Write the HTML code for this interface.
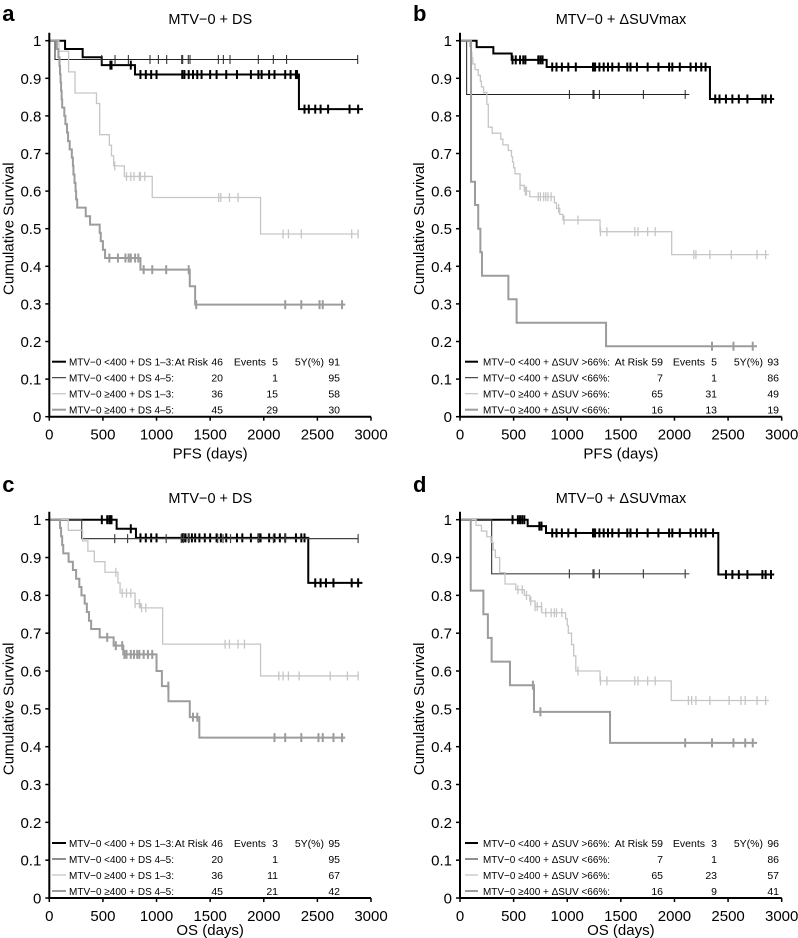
<!DOCTYPE html>
<html><head><meta charset="utf-8"><style>
body{margin:0;background:#fff;}
svg{display:block;font-family:"Liberation Sans",sans-serif;}
</style></head><body>
<svg id="chart" width="798" height="938" viewBox="0 0 798 938" xmlns="http://www.w3.org/2000/svg"></svg>
<script>
// ---------- data ----------
const xTicks=[0,500,1000,1500,2000,2500,3000];
const yTicks=[0,0.1,0.2,0.3,0.4,0.5,0.6,0.7,0.8,0.9,1];
const yTickLabels=["0","0.1","0.2","0.3","0.4","0.5","0.6","0.7","0.8","0.9","1"];

// Panel a (PFS, DS)
const aS1=[[0,1],[147,0.978],[311,0.956],[489,0.935],[799,0.91],[2328,0.818]]; const aS1end=2925;
const aS1c=[570,580,760,850,900,950,1000,1240,1260,1300,1340,1380,1420,1500,1560,1650,1750,1880,1950,1980,2050,2100,2200,2250,2300,2310,2380,2420,2480,2530,2600,2800,2880];
const aS2=[[0,1],[53,0.95]]; const aS2end=2876;
const aS2c=[489,613,737,939,1017,1095,1235,1244,1296,1312,1576,1623,1685,1949,2089,2213,2876];
const aS3=[[0,1],[90,0.972],[180,0.917],[240,0.861],[440,0.833],[470,0.75],[560,0.722],[580,0.694],[600,0.667],[700,0.639],[960,0.583],[1970,0.486]]; const aS3end=2880;
const aS3c=[610,720,760,790,840,850,890,1580,1600,1680,1760,2180,2230,2350,2820,2880];
const aS4=[[0,1],[70,0.978],[85,0.956],[95,0.933],[100,0.911],[105,0.889],[110,0.867],[115,0.844],[120,0.822],[140,0.8],[150,0.778],[165,0.756],[175,0.733],[190,0.711],[210,0.689],[220,0.667],[225,0.644],[235,0.622],[245,0.6],[250,0.578],[260,0.556],[340,0.533],[380,0.511],[470,0.489],[480,0.467],[500,0.444],[520,0.422],[850,0.391],[1310,0.347],[1360,0.298]]; const aS4end=2760;
const aS4c=[560,640,710,740,760,800,830,880,960,1090,1300,1370,2200,2350,2520,2550,2730];

// Panel b (PFS, dSUVmax)
const bS1=[[0,1],[155,0.983],[311,0.966],[482,0.949],[808,0.93],[2331,0.845]]; const bS1end=2930;
const bS1c=[490,520,560,590,610,730,750,770,860,900,950,1010,1080,1240,1250,1260,1300,1340,1380,1420,1480,1560,1590,1650,1750,1850,1950,1980,2050,2150,2200,2250,2290,2380,2420,2480,2540,2600,2680,2820,2850,2900];
const bS2=[[0,1],[62,0.857]]; const bS2end=2139;
const bS2c=[1020,1240,1250,1300,1710,2100];
const bS3=[[0,1],[90,0.985],[100,0.969],[110,0.954],[120,0.938],[140,0.923],[170,0.908],[190,0.892],[200,0.877],[220,0.862],[250,0.831],[264,0.77],[300,0.754],[380,0.738],[400,0.723],[450,0.708],[480,0.692],[490,0.677],[500,0.662],[513,0.646],[560,0.615],[600,0.6],[650,0.585],[880,0.569],[900,0.554],[930,0.538],[960,0.523],[1306,0.492],[1974,0.431]]; const bS3end=2880;
const bS3c=[560,610,620,730,750,780,800,820,850,920,970,1100,1310,1370,1630,1660,1750,1820,2180,2200,2330,2530,2770,2850];
const bS4=[[0,1],[103,0.625],[140,0.563],[170,0.5],[190,0.4375],[205,0.375],[451,0.3125],[528,0.25],[1362,0.1875]]; const bS4end=2770;
const bS4c=[2350,2550,2730];

// Panel c (OS, DS)
const cS1=[[0,1],[628,0.976],[808,0.952],[2415,0.833]]; const cS1end=2920;
const cS1c=[490,540,560,570,580,760,850,900,950,1000,1240,1250,1270,1300,1330,1360,1400,1450,1500,1560,1600,1650,1750,1800,1880,1950,1970,2050,2100,2150,2200,2300,2350,2380,2480,2530,2580,2650,2820,2880];
const cS2=[[0,1],[302,0.95]]; const cS2end=2880;
const cS2c=[610,730,1090,1230,1250,1300,1570,1620,1690,1950,2090,2200,2880];
const cS3=[[0,1],[177,0.972],[310,0.944],[360,0.917],[420,0.889],[519,0.861],[640,0.833],[660,0.806],[800,0.778],[850,0.767],[1057,0.671],[1970,0.587]]; const cS3end=2880;
const cS3c=[620,680,720,760,800,840,860,900,1640,1680,1760,1820,2140,2180,2230,2330,2620,2780,2880];
const cS4=[[0,1],[100,0.978],[110,0.956],[120,0.933],[130,0.911],[180,0.889],[220,0.867],[250,0.844],[280,0.822],[300,0.8],[330,0.778],[350,0.756],[370,0.733],[390,0.711],[470,0.689],[600,0.667],[690,0.644],[1000,0.6],[1050,0.56],[1111,0.52],[1310,0.478],[1399,0.424]]; const cS4end=2760;
const cS4c=[540,620,680,700,720,760,790,820,840,880,920,960,1110,1340,1380,2100,2200,2350,2510,2550,2650,2730];

// Panel d (OS, dSUVmax)
const dS1=[[0,1],[631,0.983],[802,0.965],[2409,0.855]]; const dS1end=2930;
const dS1c=[490,540,560,580,600,740,760,860,900,950,1010,1080,1240,1250,1260,1300,1340,1380,1420,1480,1560,1590,1650,1750,1850,1950,1980,2050,2150,2200,2250,2290,2360,2480,2540,2600,2680,2820,2850,2900];
const dS2=[[0,1],[295,0.857]]; const dS2end=2139;
const dS2c=[1020,1240,1250,1300,1710,2100];
const dS3=[[0,1],[150,0.985],[200,0.97],[250,0.955],[290,0.94],[310,0.92],[330,0.9],[370,0.86],[420,0.83],[520,0.815],[600,0.8],[650,0.785],[700,0.77],[762,0.754],[985,0.738],[1000,0.72],[1010,0.7],[1040,0.67],[1060,0.64],[1080,0.6],[1306,0.574],[1970,0.522]]; const dS3end=2880;
const dS3c=[540,580,620,660,700,720,760,800,850,880,900,950,1100,1310,1370,1630,1660,1750,1820,2130,2160,2200,2330,2510,2620,2660,2770,2850];
const dS4=[[0,1],[100,0.8125],[218,0.75],[260,0.6875],[295,0.625],[466,0.5625],[690,0.492],[1399,0.41]]; const dS4end=2770;
const dS4c=[680,750,2100,2350,2550,2660,2730];

const legA=["MTV\u22120 <400 + DS 1\u20133:","MTV\u22120 <400 + DS 4\u20135:","MTV\u22120 \u2265400 + DS 1\u20133:","MTV\u22120 \u2265400 + DS 4\u20135:"];
const legB=["MTV\u22120 <400 + \u0394SUV >66%:","MTV\u22120 <400 + \u0394SUV <66%:","MTV\u22120 \u2265400 + \u0394SUV >66%:","MTV\u22120 \u2265400 + \u0394SUV <66%:"];
const atRiskA=[46,20,36,45], eventsA=[5,1,15,29], fiveA=[91,95,58,30];
const atRiskB=[59,7,65,16], eventsB=[5,1,31,13], fiveB=[93,86,49,19];
const atRiskC=[46,20,36,45], eventsC=[3,1,11,21], fiveC=[95,95,67,42];
const atRiskD=[59,7,65,16], eventsD=[3,1,23,9], fiveD=[96,86,57,41];

// ---------- drawing ----------
const NS="http://www.w3.org/2000/svg";
const svg=document.getElementById('chart');
function mk(tag,attrs,parent){const e=document.createElementNS(NS,tag);for(const k in attrs)e.setAttribute(k,attrs[k]);(parent||svg).appendChild(e);return e;}
const styles=[{c:"#000",w:2},{c:"#222",w:1},{c:"#c6c6c6",w:1.3},{c:"#9c9c9c",w:2}];
const darkThin={c:"#444",w:1.2};

function panel(p){
  const g=mk('g',{});
  
  
  const X=v=>p.x0+v/3000*321.7;
  const Y=v=>p.yBot-(p.yBot-p.yTop)*v;
  const t=mk('text',{x:p.x0-47,y:p.letterY,'font-size':22,'font-weight':'bold'},g);t.textContent=p.letter;
  
  const ti=mk('text',{x:p.x0+161,y:p.titleY,'font-size':14.5,'text-anchor':'middle'},g);ti.textContent=p.title;
  
  p.series.forEach((s,i)=>{
    const st=(i===1&&p.darkThin)?darkThin:styles[i];
    let d="M"+X(s.pts[0][0])+","+Y(s.pts[0][1]);
    for(let k=1;k<s.pts.length;k++){d+=" H"+X(s.pts[k][0])+" V"+Y(s.pts[k][1]);}
    d+=" H"+X(s.end);
    const ln=mk('path',{d:d,fill:'none',stroke:st.c,'stroke-width':st.w},g);
    
    
    const valAt=tt=>{let v=1;for(const q of s.pts){if(q[0]<=tt)v=q[1];}return v;};
    s.cens.forEach(c=>{
      const cx=X(c),cy=Y(valAt(c));
      const m=mk('line',{x1:cx,x2:cx,y1:cy-4.5,y2:cy+4.5,stroke:st.c,'stroke-width':st.w},g);
      
      
    });
  });
  const ax=mk('path',{d:`M${p.x0},${p.yTop-8} V${p.yBot} H${X(3000)}`,fill:'none',stroke:'#000','stroke-width':2},g);
  
  yTicks.forEach((v,i)=>{
    mk('line',{x1:p.x0-4,x2:p.x0,y1:Y(v),y2:Y(v),stroke:'#000','stroke-width':1.5},g);
    const l=mk('text',{x:p.x0-8,y:Y(v)+5.5,'font-size':15,'text-anchor':'end'},g);l.textContent=yTickLabels[i];
    
  });
  xTicks.forEach(v=>{
    mk('line',{x1:X(v),x2:X(v),y1:p.yBot,y2:p.yBot+4,stroke:'#000','stroke-width':1.5},g);
    const l=mk('text',{x:X(v),y:p.yBot+23,'font-size':15,'text-anchor':'middle'},g);l.textContent=String(v);
    
  });
  const xt=mk('text',{x:X(1500),y:p.yBot+p.xtOff,'font-size':15,'text-anchor':'middle'},g);xt.textContent=p.xlabel;
  
  const yc=(p.yTop+p.yBot)/2, yx=p.x0-36;
  const yt=mk('text',{x:yx,y:yc,'font-size':15,'text-anchor':'middle',transform:`rotate(-90 ${yx} ${yc})`},g);yt.textContent="Cumulative Survival";
  
  const L=p.leg;
  for(let r=0;r<4;r++){
    const yy=p.yBot-55+r*16;
    const st=(r===1&&p.darkThin)?darkThin:styles[r];
    mk('line',{x1:L.l1,x2:L.l2,y1:yy,y2:yy,stroke:st.c,'stroke-width':st.w},g);
    const e=mk('text',{x:L.tx,y:yy+4,'font-size':10.5,textLength:L.tw,lengthAdjust:'spacingAndGlyphs'},g);e.textContent=p.labels[r];
    
    if(r===0){
      const h=[["At Risk",L.h1],["Events",L.h2],["5Y(%)",L.h3]];
      h.forEach(q=>{const z=mk('text',{x:q[1],y:yy+4,'font-size':10.5,'text-anchor':'end'},g);z.textContent=q[0];});
    }
    [[p.ar[r],L.n1],[p.ev[r],L.n2],[p.fy[r],L.n3]].forEach(q=>{
      const z=mk('text',{x:q[1],y:yy+4,'font-size':10.5,'text-anchor':'end'},g);z.textContent=String(q[0]);
      
    });
  }
}
const legLeft={l1:52,l2:66,tx:69,tw:105,h1:208,n1:223,h2:266,n2:278,h3:324,n3:340};
const legRight={l1:465,l2:478,tx:483,tw:127,h1:648,n1:663,h2:705,n2:717,h3:763,n3:779};
panel({letter:'a',title:'MTV\u22120 + DS',xlabel:'PFS (days)',x0:49.3,yTop:40.7,yBot:416.7,letterY:21,titleY:24,xtOff:42,
  series:[{pts:aS1,end:aS1end,cens:aS1c},{pts:aS2,end:aS2end,cens:aS2c},{pts:aS3,end:aS3end,cens:aS3c},{pts:aS4,end:aS4end,cens:aS4c}],
  leg:legLeft,labels:legA,ar:atRiskA,ev:eventsA,fy:fiveA});
panel({letter:'b',title:'MTV\u22120 + \u0394SUVmax',xlabel:'PFS (days)',x0:460,yTop:40.7,yBot:416.7,letterY:21,titleY:24,xtOff:42,
  series:[{pts:bS1,end:bS1end,cens:bS1c},{pts:bS2,end:bS2end,cens:bS2c},{pts:bS3,end:bS3end,cens:bS3c},{pts:bS4,end:bS4end,cens:bS4c}],
  leg:legRight,labels:legB,ar:atRiskB,ev:eventsB,fy:fiveB});
panel({letter:'c',title:'MTV\u22120 + DS',xlabel:'OS (days)',x0:49.3,yTop:519.7,yBot:898,letterY:492,titleY:503,xtOff:37,darkThin:true,
  series:[{pts:cS1,end:cS1end,cens:cS1c},{pts:cS2,end:cS2end,cens:cS2c},{pts:cS3,end:cS3end,cens:cS3c},{pts:cS4,end:cS4end,cens:cS4c}],
  leg:legLeft,labels:legA,ar:atRiskC,ev:eventsC,fy:fiveC});
panel({letter:'d',title:'MTV\u22120 + \u0394SUVmax',xlabel:'OS (days)',x0:460,yTop:519.7,yBot:898,letterY:492,titleY:503,xtOff:37,darkThin:true,
  series:[{pts:dS1,end:dS1end,cens:dS1c},{pts:dS2,end:dS2end,cens:dS2c},{pts:dS3,end:dS3end,cens:dS3c},{pts:dS4,end:dS4end,cens:dS4c}],
  leg:legRight,labels:legB,ar:atRiskD,ev:eventsD,fy:fiveD});
</script>
</body></html>
